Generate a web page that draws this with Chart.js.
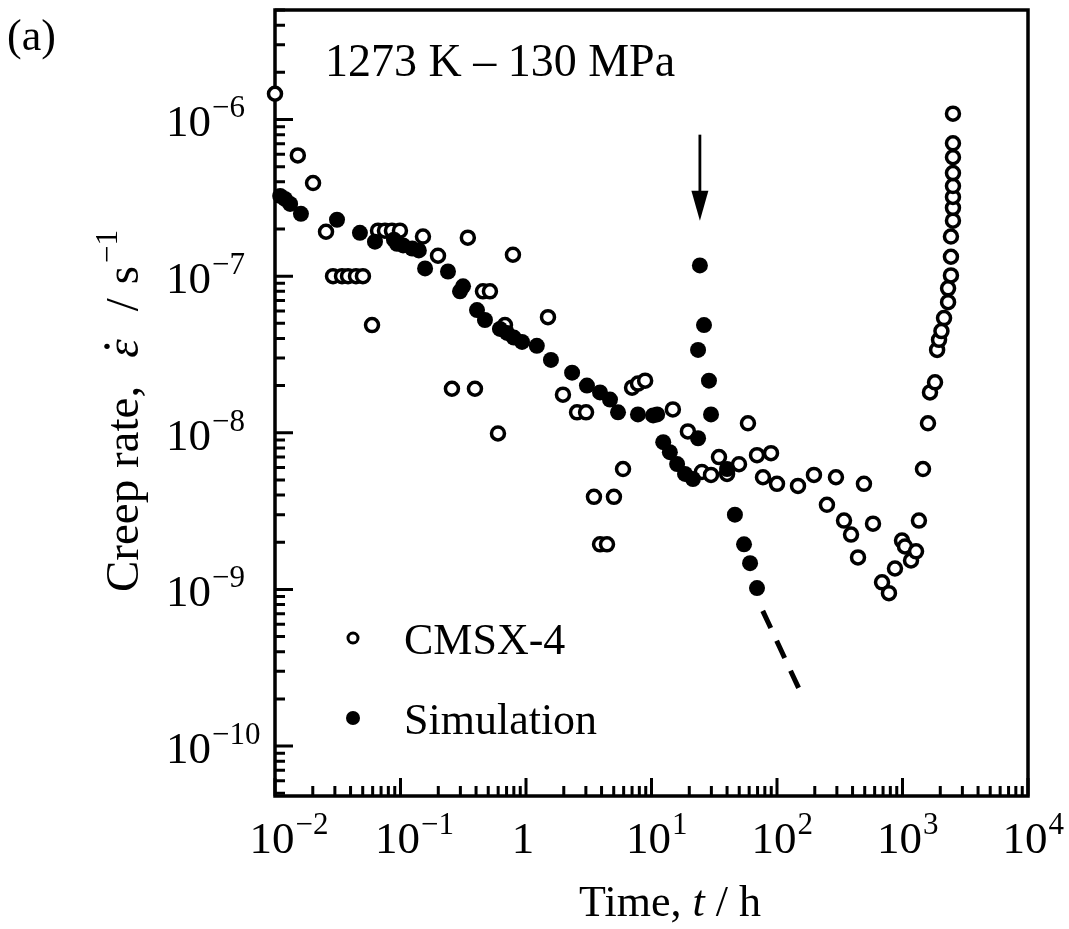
<!DOCTYPE html>
<html>
<head>
<meta charset="utf-8">
<script src="https://cdn.jsdelivr.net/npm/chart.js@4/dist/chart.umd.min.js"></script>
<style>
  html, body { margin: 0; padding: 0; background: #fff; }
  #wrap { position: relative; width: 1069px; height: 929px; }
</style>
</head>
<body>
<div id="wrap"><canvas id="creep"></canvas></div>
<script>
"use strict";

// CMSX-4 の実測クリープ速度 (t [h], rate [1/s])
const cmsxTime = [
  0.01, 0.0152, 0.0201, 0.0255, 0.029, 0.0342, 0.0382, 0.0442, 0.0502, 0.0593,
  0.0662, 0.0752, 0.0855, 0.099, 0.151, 0.199, 0.257, 0.344, 0.392, 0.454,
  0.516, 0.598, 0.68, 0.787, 1.497, 1.97, 2.55, 3.01, 3.48, 3.89,
  4.42, 5.02, 5.93, 7.0, 7.8, 8.9, 14.8, 19.5, 25.2, 29.8,
  34.5, 40, 49.8, 58.7, 69.3, 77.3, 89.6, 100, 147, 197,
  250, 295, 342, 389, 442, 493, 582, 687, 780, 871,
  991, 1047, 1169, 1282, 1352, 1456, 1596, 1656, 1816, 1887,
  1955, 2043, 2143, 2307, 2307, 2432, 2432, 2432, 2524, 2524,
  2524, 2524, 2524, 2524, 2524, 2524,
];
const cmsxRate = [
  1.46e-6, 5.9e-7, 3.93e-7, 1.92e-7, 1.0e-7, 1.0e-7, 1.0e-7, 1.0e-7, 1.0e-7, 4.87e-8,
  1.95e-7, 1.95e-7, 1.95e-7, 1.95e-7, 1.79e-7, 1.35e-7, 1.91e-8, 1.76e-7, 1.91e-8, 8.0e-8,
  8.0e-8, 9.9e-9, 4.87e-8, 1.37e-7, 5.47e-8, 1.75e-8, 1.35e-8, 1.35e-8, 3.9e-9, 1.94e-9,
  1.94e-9, 3.9e-9, 5.87e-9, 1.94e-8, 2.06e-8, 2.15e-8, 1.41e-8, 1.02e-8, 5.62e-9, 5.38e-9,
  7.0e-9, 5.46e-9, 6.3e-9, 1.15e-8, 7.2e-9, 5.2e-9, 7.41e-9, 4.72e-9, 4.58e-9, 5.38e-9,
  3.47e-9, 5.2e-9, 2.75e-9, 2.24e-9, 1.6e-9, 4.72e-9, 2.63e-9, 1.11e-9, 9.46e-10, 1.36e-9,
  2.05e-9, 1.88e-9, 1.53e-9, 1.75e-9, 2.75e-9, 5.87e-9, 1.15e-8, 1.81e-8, 2.1e-8, 3.38e-8,
  3.92e-8, 4.46e-8, 5.4e-8, 6.82e-8, 8.36e-8, 1.01e-7, 1.33e-7, 1.79e-7, 2.26e-7, 2.73e-7,
  3.2e-7, 3.76e-7, 4.55e-7, 5.74e-7, 7.05e-7, 1.09e-6,
];

// シミュレーション結果
const simTime = [
  0.011, 0.012, 0.0132, 0.0161, 0.0312, 0.0475, 0.0626, 0.0887, 0.0938, 0.105,
  0.124, 0.14, 0.157, 0.239, 0.298, 0.315, 0.407, 0.471, 0.62, 0.706,
  0.8, 0.93, 1.22, 1.58, 2.33, 3.06, 3.89, 4.67, 5.41, 7.8,
  10.3, 11.1, 12.4, 14.0, 16.0, 18.5, 21.4, 23.5, 23.5, 24.3,
  26.2, 28.7, 29.8, 40, 46.2, 54.6, 61, 69.3,
];
const simRate = [
  3.25e-7, 3.11e-7, 2.89e-7, 2.5e-7, 2.29e-7, 1.89e-7, 1.66e-7, 1.71e-7, 1.61e-7, 1.57e-7,
  1.5e-7, 1.46e-7, 1.12e-7, 1.07e-7, 8.0e-8, 8.61e-8, 6.07e-8, 5.25e-8, 4.6e-8, 4.34e-8,
  4.05e-8, 3.8e-8, 3.59e-8, 2.92e-8, 2.42e-8, 2.0e-8, 1.81e-8, 1.63e-8, 1.35e-8, 1.31e-8,
  1.29e-8, 1.31e-8, 8.71e-9, 7.52e-9, 6.31e-9, 5.46e-9, 5.07e-9, 9.23e-9, 3.38e-8, 1.17e-7,
  4.87e-8, 2.15e-8, 1.31e-8, 5.87e-9, 3.0e-9, 1.94e-9, 1.47e-9, 1.02e-9,
];

// 破断後の外挿（破線）
const extrapTime = [77, 152];
const extrapRate = [7.3e-10, 2.26e-10];

// 矢印（ピーク位置の指示）
const arrowTime = 24.3;
const arrowRate = [8.0e-7, 2.26e-7];

// 軸
const X_MIN = 0.01, X_MAX = 1e4;
const Y_MIN = 4.8e-11, Y_MAX = 5e-6;
const xTickValues = [1e-2, 1e-1, 1, 1e1, 1e2, 1e3, 1e4];
const xTickExps = ["\u22122", "\u22121", "", "1", "2", "3", "4"];
const yTickValues = [1e-6, 1e-7, 1e-8, 1e-9, 1e-10];
const yTickExps = ["\u22126", "\u22127", "\u22128", "\u22129", "\u221210"];

const SERIF = '"Liberation Serif", "Times New Roman", Times, serif';

function toPoints(xs, ys) {
  return xs.map((x, i) => ({ x, y: ys[i] }));
}

function eachLogTick(min, max, fn) {
  const e0 = Math.floor(Math.log10(min));
  const e1 = Math.ceil(Math.log10(max));
  for (let e = e0; e <= e1; e++) {
    for (let m = 1; m <= 9; m++) {
      const v = m * Math.pow(10, e);
      if (v >= min * 0.999 && v <= max * 1.001) fn(v, m === 1);
    }
  }
}

// 10^n 形式のラベル（上付き）
function drawPow(ctx, exp, x, baseY, align) {
  ctx.textBaseline = "alphabetic";
  ctx.textAlign = "left";
  ctx.font = `45px ${SERIF}`;
  const label = exp === "" ? "1" : "10";
  const wb = ctx.measureText(label).width;
  const left = align === "center" ? x - wb / 2 : x;
  ctx.fillText(label, left, baseY);
  if (exp !== "") {
    ctx.font = `31px ${SERIF}`;
    ctx.fillText(exp, left + wb + 1, baseY - 19);
  }
}

const decorPlugin = {
  id: "decor",
  beforeDatasetsDraw(chart) {
    const { ctx, chartArea: a } = chart;
    const xs = chart.scales.x, ys = chart.scales.y;
    ctx.save();
    ctx.strokeStyle = "#000";
    ctx.lineWidth = 3;
    ctx.beginPath();
    eachLogTick(xs.min, xs.max, (v, major) => {
      const px = xs.getPixelForValue(v);
      ctx.moveTo(px, a.bottom);
      ctx.lineTo(px, a.bottom - (major ? 18 : 10));
    });
    eachLogTick(ys.min, ys.max, (v, major) => {
      const py = ys.getPixelForValue(v);
      ctx.moveTo(a.left, py);
      ctx.lineTo(a.left + (major ? 18 : 10), py);
    });
    ctx.stroke();
    ctx.lineWidth = 3.5;
    ctx.strokeRect(a.left, a.top, a.right - a.left, a.bottom - a.top);
    ctx.restore();
  },
  afterDatasetsDraw(chart) {
    const { ctx, chartArea: a } = chart;
    const xs = chart.scales.x, ys = chart.scales.y;
    ctx.save();
    ctx.fillStyle = "#000";
    ctx.strokeStyle = "#000";

    // 目盛ラベル
    xTickValues.forEach((v, i) => {
      const px = xs.getPixelForValue(v);
      drawPow(ctx, xTickExps[i], px - 3, a.bottom + 57, "center");
    });
    yTickValues.forEach((v, i) => {
      const py = ys.getPixelForValue(v);
      drawPow(ctx, yTickExps[i], 166, py + 17, "left");
    });

    // 横軸タイトル
    ctx.textAlign = "left";
    ctx.font = `44px ${SERIF}`;
    const p1 = "Time, ";
    const w1 = ctx.measureText(p1).width;
    const w3 = ctx.measureText(" / h").width;
    ctx.font = `italic 44px ${SERIF}`;
    const w2 = ctx.measureText("t").width;
    let tx = 670 - (w1 + w2 + w3) / 2;
    const ty = 916;
    ctx.font = `44px ${SERIF}`;
    ctx.fillText(p1, tx, ty); tx += w1;
    ctx.font = `italic 44px ${SERIF}`;
    ctx.fillText("t", tx, ty); tx += w2;
    ctx.font = `44px ${SERIF}`;
    ctx.fillText(" / h", tx, ty);

    // 縦軸タイトル
    ctx.save();
    ctx.translate(138, 592);
    ctx.rotate(-Math.PI / 2);
    let yx = 0;
    ctx.font = `47px ${SERIF}`;
    ctx.fillText("Creep rate,", yx, 0);
    yx += ctx.measureText("Creep rate,").width + 28;
    ctx.font = `italic 47px ${SERIF}`;
    const we = ctx.measureText("\u03b5").width;
    ctx.fillText("\u03b5", yx, 0);
    ctx.beginPath();
    ctx.arc(yx + we * 0.62, -31, 2.7, 0, Math.PI * 2);
    ctx.fill();
    yx += we + 28;
    ctx.font = `47px ${SERIF}`;
    ctx.fillText("/", yx, 0);
    yx += ctx.measureText("/").width + 14;
    ctx.fillText("s", yx, 0);
    yx += ctx.measureText("s").width + 3;
    ctx.font = `31px ${SERIF}`;
    ctx.fillText("\u22121", yx, -21);
    ctx.restore();

    // パネル記号と条件
    ctx.font = `44px ${SERIF}`;
    ctx.fillText("(a)", 7, 50);
    ctx.font = `46px ${SERIF}`;
    ctx.fillText("1273 K \u2013 130 MPa", 325, 76);

    // 凡例
    ctx.lineWidth = 3;
    ctx.beginPath();
    ctx.arc(353, 638, 5, 0, Math.PI * 2);
    ctx.fillStyle = "#fff";
    ctx.fill();
    ctx.stroke();
    ctx.fillStyle = "#000";
    ctx.beginPath();
    ctx.arc(353, 718, 7, 0, Math.PI * 2);
    ctx.fill();
    ctx.font = `44px ${SERIF}`;
    ctx.fillText("CMSX-4", 404, 654);
    ctx.fillText("Simulation", 404, 734);

    // 矢印
    const ax = xs.getPixelForValue(arrowTime);
    const ay0 = ys.getPixelForValue(arrowRate[0]);
    const ay1 = ys.getPixelForValue(arrowRate[1]);
    ctx.lineWidth = 2.8;
    ctx.beginPath();
    ctx.moveTo(ax, ay0);
    ctx.lineTo(ax, ay1 - 20);
    ctx.stroke();
    ctx.beginPath();
    ctx.moveTo(ax, ay1);
    ctx.lineTo(ax - 8.5, ay1 - 30);
    ctx.lineTo(ax + 8.5, ay1 - 30);
    ctx.closePath();
    ctx.fill();
    ctx.restore();
  },
};

new Chart(document.getElementById("creep"), {
  type: "scatter",
  data: {
    datasets: [
      {
        label: "Simulation",
        data: toPoints(simTime, simRate),
        pointStyle: "circle",
        pointRadius: 8,
        backgroundColor: "#000",
        borderColor: "#000",
        borderWidth: 0,
        clip: false,
      },
      {
        label: "CMSX-4",
        data: toPoints(cmsxTime, cmsxRate),
        pointStyle: "circle",
        pointRadius: 6.5,
        backgroundColor: "#fff",
        borderColor: "#000",
        borderWidth: 3.5,
        clip: false,
      },
      {
        label: "extrapolation",
        type: "line",
        data: toPoints(extrapTime, extrapRate),
        showLine: true,
        pointRadius: 0,
        borderColor: "#000",
        borderWidth: 5,
        borderDash: [19, 14],
        fill: false,
      },
    ],
  },
  options: {
    responsive: true,
    maintainAspectRatio: false,
    animation: false,
    events: [],
    layout: { padding: { left: 275, right: 41, top: 5, bottom: 133 } },
    scales: {
      x: { type: "logarithmic", min: X_MIN, max: X_MAX, display: false },
      y: { type: "logarithmic", min: Y_MIN, max: Y_MAX, display: false },
    },
    plugins: {
      legend: { display: false },
      tooltip: { enabled: false },
    },
  },
  plugins: [decorPlugin],
});
</script>
</body>
</html>
